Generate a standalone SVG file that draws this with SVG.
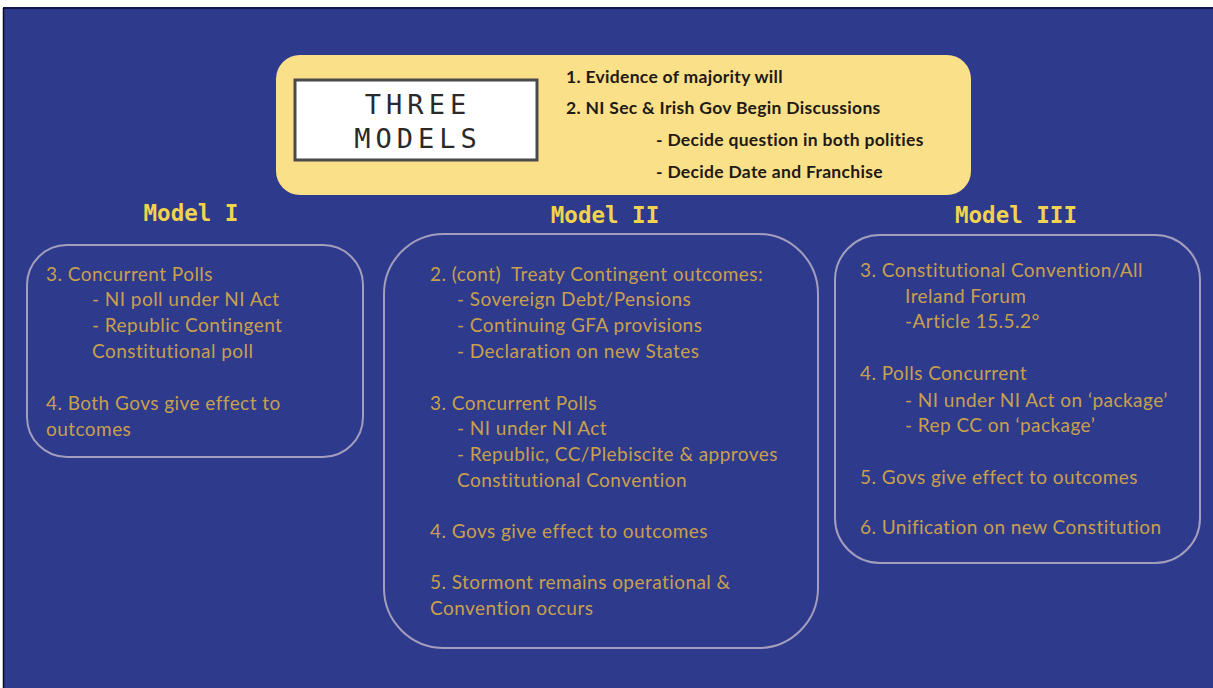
<svg xmlns="http://www.w3.org/2000/svg" width="1213" height="688" viewBox="0 0 1213 688">
<style>
.bg{fill:#2E3A8C}
.panel{fill:none;stroke:#A39DBE;stroke-width:2}
.hd{font-family:"DejaVu Sans Mono",monospace;font-weight:bold;font-size:22.5px;fill:#F2D34E;text-anchor:middle}
.t{font-family:Lato,"Open Sans",sans-serif;font-size:19px;letter-spacing:0.45px;fill:#C8A04C}
.tk{font-family:Lato,"Open Sans",sans-serif;font-size:17.5px;letter-spacing:0.3px;fill:#1E1A14;font-weight:bold}
.title{font-family:"DejaVu Sans Mono",monospace;font-size:27px;fill:#2A2A2A;text-anchor:middle;letter-spacing:5px}
</style>
<rect x="0" y="0" width="1213" height="688" fill="#FFFFFF"/>
<rect class="bg" x="3" y="8" width="1210" height="680"/>
<line x1="3" y1="8" x2="1213" y2="8" stroke="#12164A" stroke-width="2"/>
<line x1="3.5" y1="8" x2="3.5" y2="688" stroke="#0A0A20" stroke-width="1.5"/>

<g id="header">
<rect x="276" y="55" width="695" height="140" rx="24" fill="#FBE08A"/>
<rect x="295" y="80" width="242" height="80" fill="#FFFFFF" stroke="#4A4A4A" stroke-width="3"/>
<text class="title" x="418" y="114">THREE</text>
<text class="title" x="418" y="148">MODELS</text>
<text class="tk" x="566" y="83">1. Evidence of majority will</text>
<text class="tk" x="566" y="114">2. NI Sec &amp; Irish Gov Begin Discussions</text>
<text class="tk" x="656" y="146">- Decide question in both polities</text>
<text class="tk" x="656" y="178">- Decide Date and Franchise</text>
</g>

<g id="model1">
<text class="hd" x="191" y="221">Model I</text>
<rect class="panel" x="27" y="245" width="336" height="212" rx="40"/>
<text class="t" x="46" y="281">3. Concurrent Polls</text>
<text class="t" x="92" y="306">- NI poll under NI Act</text>
<text class="t" x="92" y="332">- Republic Contingent</text>
<text class="t" x="92" y="358">Constitutional poll</text>
<text class="t" x="46" y="410">4. Both Govs give effect to</text>
<text class="t" x="46" y="436">outcomes</text>
</g>

<g id="model2">
<text class="hd" x="605" y="223">Model II</text>
<rect class="panel" x="384" y="234" width="434" height="414" rx="60"/>
<text class="t" x="430" y="281" xml:space="preserve">2. (cont)  Treaty Contingent outcomes:</text>
<text class="t" x="457" y="306">- Sovereign Debt/Pensions</text>
<text class="t" x="457" y="332">- Continuing GFA provisions</text>
<text class="t" x="457" y="358">- Declaration on new States</text>
<text class="t" x="430" y="410">3. Concurrent Polls</text>
<text class="t" x="457" y="435">- NI under NI Act</text>
<text class="t" x="457" y="461">- Republic, CC/Plebiscite &amp; approves</text>
<text class="t" x="457" y="487">Constitutional Convention</text>
<text class="t" x="430" y="538">4. Govs give effect to outcomes</text>
<text class="t" x="430" y="589">5. Stormont remains operational &amp;</text>
<text class="t" x="430" y="615">Convention occurs</text>
</g>

<g id="model3">
<text class="hd" x="1016" y="223">Model III</text>
<rect class="panel" x="835" y="235" width="365" height="328" rx="45"/>
<text class="t" x="860" y="277">3. Constitutional Convention/All</text>
<text class="t" x="905" y="303">Ireland Forum</text>
<text class="t" x="905" y="328">-Article 15.5.2°</text>
<text class="t" x="860" y="380">4. Polls Concurrent</text>
<text class="t" x="905" y="407">- NI under NI Act on ‘package’</text>
<text class="t" x="905" y="432">- Rep CC on ‘package’</text>
<text class="t" x="860" y="484">5. Govs give effect to outcomes</text>
<text class="t" x="860" y="534">6. Unification on new Constitution</text>
</g>

<g id="connectors"></g>
</svg>
